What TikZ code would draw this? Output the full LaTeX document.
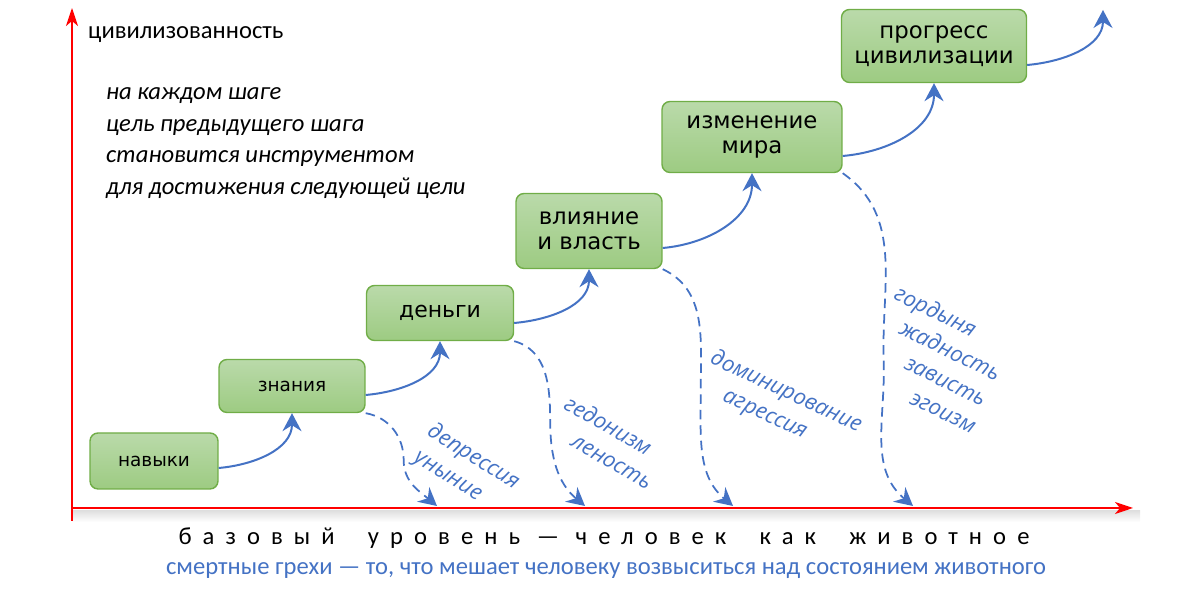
\documentclass[tikz,border=0pt]{standalone}
\usepackage{fontspec}
\setmainfont{Carlito}
\newfontfamily\boxfont{DejaVu Sans}
\newfontfamily\labfont{Open Sans}
\usepackage{tikz}
\usetikzlibrary{arrows.meta,positioning}
\usepackage{xcolor}
\definecolor{stepgreen}{RGB}{112,173,71}
\definecolor{steptop}{RGB}{186,218,170}
\definecolor{stepbot}{RGB}{157,203,130}
\definecolor{sinblue}{RGB}{68,114,196}
\definecolor{axisred}{RGB}{255,0,0}
\tikzstyle{stepbox} = [rectangle, rounded corners=0.16cm, inner sep=0pt, draw=stepgreen, top color=steptop, bottom color=stepbot, line width=0.8pt, text centered, align=center, font=\boxfont\fontsize{13}{14.5}\selectfont]
\tikzstyle{smallstep} = [stepbox, font=\boxfont\fontsize{10.5}{13}\selectfont]
\tikzstyle{up} = [line width=0.04cm, color=sinblue, -{Stealth[length=0.36cm,width=0.38cm,inset=0.12cm]}]
\tikzstyle{down} = [line width=0.035cm, color=sinblue, dash pattern=on 0.19cm off 0.12cm, -{Stealth[length=0.36cm,width=0.38cm,inset=0.12cm]}]
\tikzstyle{axis} = [line width=0.04cm, color=axisred, -{Stealth[length=0.36cm,width=0.24cm,inset=0.1cm]}]
\tikzstyle{sin} = [color=sinblue, align=left, anchor=north west, inner sep=0pt, font=\labfont\itshape\fontsize{12.5}{16.5}\selectfont]

\begin{document}
\begin{tikzpicture}[x=0.02cm, y=0.02cm]
\useasboundingbox (0,0) rectangle (1200,590);

% Axes
\coordinate (ybot) at (72,69);
\coordinate (o) at (72,82);
\coordinate (ytop) at (72,582);
\coordinate (xend) at (1133,82);
\shade[top color=black!12, bottom color=white] (72,68) rectangle (1140,79);
\draw[axis] (ybot) -- (ytop);
\draw[axis] (o) -- (xend);

% Texts on the left
\node (civ) [anchor=west, font=\fontsize{14}{17}\selectfont] at (82,555) {цивилизованность};
\node (note) [anchor=west, align=left, font=\itshape\fontsize{14}{18}\selectfont] at (100,447) {на каждом шаге\\цель предыдущего шага\\становится инструментом\\для достижения следующей цели};

% Steps
\node (nav) [smallstep, minimum width=2.56cm, minimum height=1.12cm] at (154,129) {навыки};
\node (zn) [smallstep, minimum width=2.92cm, minimum height=1.06cm] at (292,204) {знания};
\node (den) [stepbox, minimum width=2.94cm, minimum height=1.1cm, font=\boxfont\fontsize{12.5}{14}\selectfont] at (440,277) {деньги};
\node (vl) [stepbox, minimum width=2.92cm, minimum height=1.5cm] at (589,359) {влияние\\и власть};
\node (iz) [stepbox, minimum width=3.6cm, minimum height=1.42cm] at (752,453) {изменение\\мира};
\node (pr) [stepbox, minimum width=3.7cm, minimum height=1.46cm] at (934,544) {прогресс\\цивилизации};
\coordinate (next) at (1103,580);

% Steps up
\draw[up] ([yshift=-0.14cm]nav.east) to[out=5, in=-90] (zn.south);
\draw[up] ([yshift=-0.18cm]zn.east) to[out=5, in=-90] (den.south);
\draw[up] ([yshift=-0.2cm]den.east) to[out=5, in=-90] (vl.south);
\draw[up] ([yshift=-0.34cm]vl.east) to[out=5, in=-90] (iz.south);
\draw[up] ([yshift=-0.38cm]iz.east) to[out=5, in=-90] (pr.south);
\draw[up] ([yshift=-0.38cm]pr.east) to[out=5, in=-90] (next);

% Falls down to the base level
\coordinate (d1) at (437,84);
\coordinate (d2) at (585,84);
\coordinate (d3) at (733,84);
\coordinate (d4) at (913,84);
\draw[down] (zn.south east) to[out=-10, in=90] ++(38,-47) to[out=-90, in=140] (d1);
\draw[down] (den.south east) to[out=-15, in=90] ++(36,-80) to[out=-90, in=140] (d2);
\draw[down] (vl.south east) to[out=-25, in=90] ++(38,-121) to[out=-90, in=140] (d3);
\draw[down] (iz.south east) to[out=-35, in=92] ++(41,-187) to[out=-88, in=140] (d4);

% Sins
\node (s1) [sin, rotate=-32] at (435,170) {депрессия\\\hspace*{0.05cm}уныние};
\node (s2) [sin, rotate=-30] at (571,197) {гедонизм\\\hspace*{0.5cm}леность};
\node (s3) [sin, rotate=-25] at (716,243) {доминирование\\\hspace*{0.55cm}агрессия};
\node (s4) [sin, rotate=-26] at (900,307) {гордыня\\\hspace*{0.4cm}жадность\\\hspace*{0.8cm}зависть\\\hspace*{1.2cm}эгоизм};

% Base level
\node (base) [font=\addfontfeatures{LetterSpace=45}\fontsize{14}{17}\selectfont] at (604,52) {базовый \ уровень — человек \ как \ животное};
\node (grehi) [color=sinblue, font=\fontsize{14}{17}\selectfont] at (606,19) {смертные грехи — то, что мешает человеку возвыситься над состоянием животного};
\end{tikzpicture}
\end{document}
